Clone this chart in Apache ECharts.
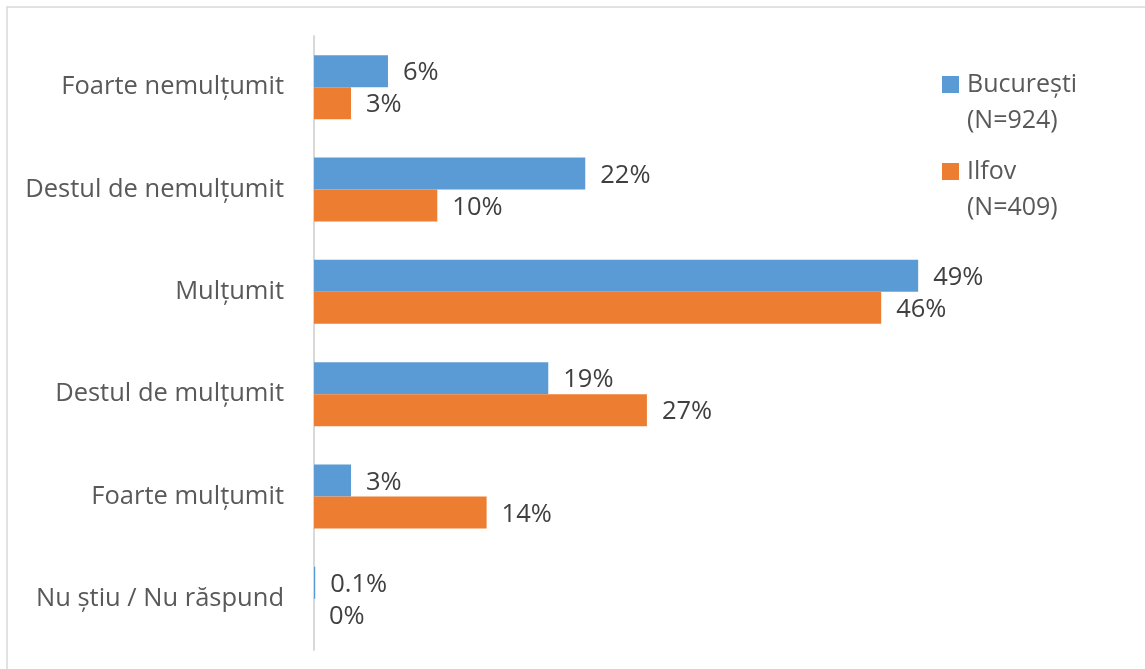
<!DOCTYPE html>
<html>
<head>
<meta charset="utf-8">
<script src="https://cdn.jsdelivr.net/npm/echarts@6/dist/echarts.min.js"></script>
<style>
  html, body { margin: 0; padding: 0; background: #fff; }
  #chart { width: 1145px; height: 669px; }
</style>
</head>
<body>
<div id="chart"></div>
<script>
// Satisfaction levels, top to bottom
const categories = [
  'Foarte nemulțumit',
  'Destul de nemulțumit',
  'Mulțumit',
  'Destul de mulțumit',
  'Foarte mulțumit',
  'Nu știu / Nu răspund'
];
// Share of respondents (%)
const bucuresti = [6, 22, 49, 19, 3, 0.1];
const ilfov = [3, 10, 46, 27, 14, 0];
const seriesNames = ['București\n(N=924)', 'Ilfov\n(N=409)'];

const FONT = '"Open Sans", sans-serif';

const chart = echarts.init(document.getElementById('chart'), null, { renderer: 'canvas' });

const labelStyle = {
  show: true,
  position: 'right',
  distance: 15,
  offset: [0, 2],
  fontFamily: FONT,
  fontSize: 25.5,
  color: '#404040',
  formatter: p => p.value + '%'
};

chart.setOption({
  animation: false,
  backgroundColor: '#fff',
  graphic: [{
    type: 'rect',
    shape: { x: 7, y: 7, width: 1200, height: 720 },
    style: { fill: 'none', stroke: '#d9d9d9', lineWidth: 1.5 },
    silent: true
  }],
  grid: { left: 314, top: 36, bottom: 19, right: 214.5, containLabel: false },
  legend: {
    orient: 'vertical',
    left: 942,
    top: 30.5,
    padding: 0,
    itemWidth: 17,
    itemHeight: 17,
    itemGap: -21,
    icon: 'rect',
    // blank first line keeps the marker level with the series name
    formatter: name => '\n' + name,
    textStyle: {
      fontFamily: FONT, fontSize: 25, color: '#595959', lineHeight: 36,
      padding: [0, 0, 0, 3]
    },
    data: seriesNames
  },
  xAxis: {
    type: 'value',
    min: 0,
    max: 50,
    show: false
  },
  yAxis: {
    type: 'category',
    inverse: true,
    data: categories,
    axisLine: { show: true, lineStyle: { color: '#d9d9d9', width: 2 } },
    axisTick: { show: false },
    axisLabel: {
      fontFamily: FONT, fontSize: 25.5, color: '#595959', margin: 30,
      padding: [4, 0, 0, 0]
    }
  },
  series: [
    {
      name: seriesNames[0],
      type: 'bar',
      data: bucuresti,
      barGap: '0%',
      barCategoryGap: '37.5%',
      itemStyle: { color: '#5b9bd5' },
      label: labelStyle
    },
    {
      name: seriesNames[1],
      type: 'bar',
      data: ilfov,
      barGap: '0%',
      barCategoryGap: '37.5%',
      itemStyle: { color: '#ed7d31' },
      label: labelStyle
    }
  ]
});
</script>
</body>
</html>
